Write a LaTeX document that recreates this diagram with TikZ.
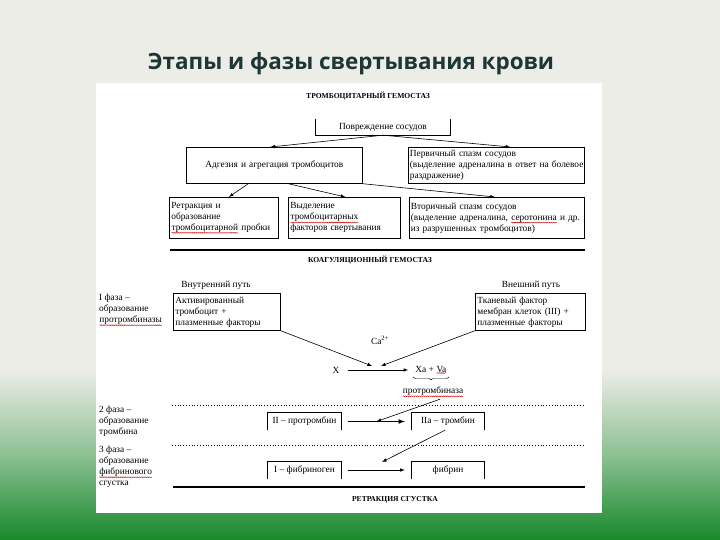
\documentclass[tikz,border=0pt]{standalone}
\usepackage{fontspec}
\setmainfont{Liberation Serif}
\newfontfamily\titlefont{Open Sans}
\usetikzlibrary{positioning,calc,decorations.pathreplacing,decorations.pathmorphing}

\definecolor{bgcol}{HTML}{EDEDE7}
\definecolor{greencol}{HTML}{17892B}
\definecolor{titlecol}{HTML}{1E3636}

% red spell-check wave under a word
\newcommand\redwave[1]{\tikz[baseline=(w.base)]{\node[inner sep=0pt, outer sep=0pt, text width={}, minimum size=0pt, draw=none, anchor=center] (w) {#1};
    \draw[red!80!black, line width=0.4pt, decorate, decoration={snake, amplitude=0.5pt, segment length=2pt}] ([yshift=-0.6pt]w.south west) -- ([yshift=-0.6pt]w.south east);}}

\begin{document}
\begin{tikzpicture}[x=1bp, y=-1bp,
    txt/.style={font=\fontsize{9.4}{11}\selectfont, inner sep=2bp},
    box/.style={txt, draw, line width=0.7bp, anchor=north west, align=left},
    head/.style={font=\bfseries\fontsize{7.6}{9}\selectfont},
    edge/.style={line width=0.7bp},
    arr/.style={->, >=latex, line width=0.6bp},
    sep/.style={line width=2.2bp},
    dots/.style={dotted, line width=0.8bp}]
    % background
    \fill[bgcol] (0,0) rectangle (720,540);
    \shade[top color=bgcol, bottom color=greencol, middle color=greencol!45!bgcol] (0,370) rectangle (720,540);
    \fill[white] (96,83) rectangle (602,513);
    \node[font=\titlefont\bfseries\fontsize{22.5}{26}\selectfont, text=titlecol] (title) at (351,64) {Этапы и фазы свертывания крови};

    % platelet hemostasis
    \node[head] (plat) at (368,96) {ТРОМБОЦИТАРНЫЙ ГЕМОСТАЗ};
    \node[txt, minimum width=134bp, minimum height=16bp] (dmg) at (383,127) {Повреждение сосудов};
    \draw[edge] (dmg.north west) |- (dmg.south east) -- (dmg.north east);
    \node[box, text width=172bp, minimum height=36bp, align=center] (adh) at (186,147) {Адгезия и агрегация тромбоцитов};
    \node[box, text width=173bp, minimum height=36bp, inner xsep=1.5bp] (spasmA) at (408,147) {Первичный спазм сосудов\\\mbox{(выделение адреналина в ответ на болевое}\\раздражение)};
    \draw[arr] (dmg.south) -- ([xshift=-4bp]adh.north);
    \draw[arr] (dmg.south) -- ([xshift=14bp]spasmA.north);

    \node[box, text width=105bp, minimum height=41bp] (retr) at (169,197) {Ретракция и\\образование\\\mbox{\redwave{тромбоцитарной} пробки}};
    \node[box, text width=108bp, minimum height=41bp] (fact) at (288,197) {Выделение\\\redwave{тромбоцитарных}\\\mbox{факторов свертывания}};
    \node[box, text width=172bp, minimum height=41bp, inner xsep=1.5bp] (spasmB) at (409,197) {Вторичный спазм сосудов\\\mbox{(выделение адреналина, \redwave{серотонина} и др.}\\из разрушенных тромбоцитов)};
    \draw[arr] ([xshift=-26bp]adh.south) -- ([xshift=5bp]retr.north);
    \draw[arr] ([xshift=14bp]adh.south) -- ([xshift=1bp]fact.north);
    \draw[arr] (adh.south east) -- ([xshift=-2bp]spasmB.north);
    \draw[sep] (170,250) -- (585,250);

    % coagulation hemostasis
    \node[head] (coag) at (370,260) {КОАГУЛЯЦИОННЫЙ ГЕМОСТАЗ};
    \node[txt] (intr) at (216,285) {Внутренний путь};
    \node[txt] (extr) at (531,285) {Внешний путь};
    \node[box, text width=103bp, minimum height=37bp] (act) at (173,293) {Активированный\\тромбоцит +\\\mbox{плазменные факторы}};
    \node[box, text width=106bp, minimum height=37bp] (tiss) at (475,293) {Тканевый фактор\\\mbox{мембран клеток (III) +}\\\mbox{плазменные факторы}};

    \node[txt, anchor=north west, align=left] (phA) at (97,292) {I фаза –\\образование\\\redwave{протромбиназы}};
    \node[txt, anchor=north west, align=left] (phB) at (97,404) {2 фаза –\\образование\\тромбина};
    \node[txt, anchor=north west, align=left] (phC) at (97,444) {3 фаза –\\образование\\\redwave{фибринового}\\сгустка};

    \node[txt] (ca) at (380,340) {Ca\textsuperscript{2+}};
    \node[txt] (x) at (336,370) {X};
    \node[txt] (xava) at (431,370) {Xa + \redwave{Va}};
    \node[txt] (ptase) at (433,392) {\redwave{протромбиназа}};
    \draw[decorate, decoration={brace, mirror, amplitude=3bp}] ([yshift=-1bp]xava.south west) -- ([yshift=-1bp]xava.south east);
    \draw[arr, shorten <=6bp, shorten >=5bp] (x) -- (xava);
    \coordinate (inL) at (372,366);
    \coordinate (inR) at (381,366);
    \draw[arr] (act.south east) -- (inL);
    \draw[arr] (tiss.south west) -- (inR);

    \draw[dots] (172,405) -- (585,405);
    \node[txt, minimum width=73bp, minimum height=17bp] (pt) at (304.5,421.5) {II – протромбин};
    \node[txt, minimum width=72bp, minimum height=17bp] (th) at (448,421.5) {IIa – тромбин};
    \draw[edge] (pt.south west) |- (pt.north east) -- (pt.south east);
    \draw[edge] (th.south west) |- (th.north east) -- (th.south east);
    \draw[arr, line width=1.1bp] ([xshift=7bp]pt.east) -- ([xshift=-7bp]th.west);
    \draw[arr] ([xshift=7bp]ptase.south) -- ($(pt.east)!0.5!(th.west)$);

    \draw[dots] (172,445) -- (585,445);
    \node[txt, minimum width=73bp, minimum height=17bp] (fg) at (304.5,470) {I – фибриноген};
    \node[txt, minimum width=72bp, minimum height=17bp] (fb) at (448,470) {фибрин};
    \draw[edge] (fg.south west) |- (fg.north east) -- (fg.south east);
    \draw[edge] (fb.south west) |- (fb.north east) -- (fb.south east);
    \draw[arr] ([xshift=7bp]fg.east) -- ([xshift=-7bp]fb.west);
    \coordinate (inI) at (382,462);
    \draw[arr] ([xshift=-3bp]th.south) -- (inI);

    \draw[sep] (173,487) -- (585,487);
    \node[head] (clot) at (395,500) {РЕТРАКЦИЯ СГУСТКА};
\end{tikzpicture}
\end{document}
